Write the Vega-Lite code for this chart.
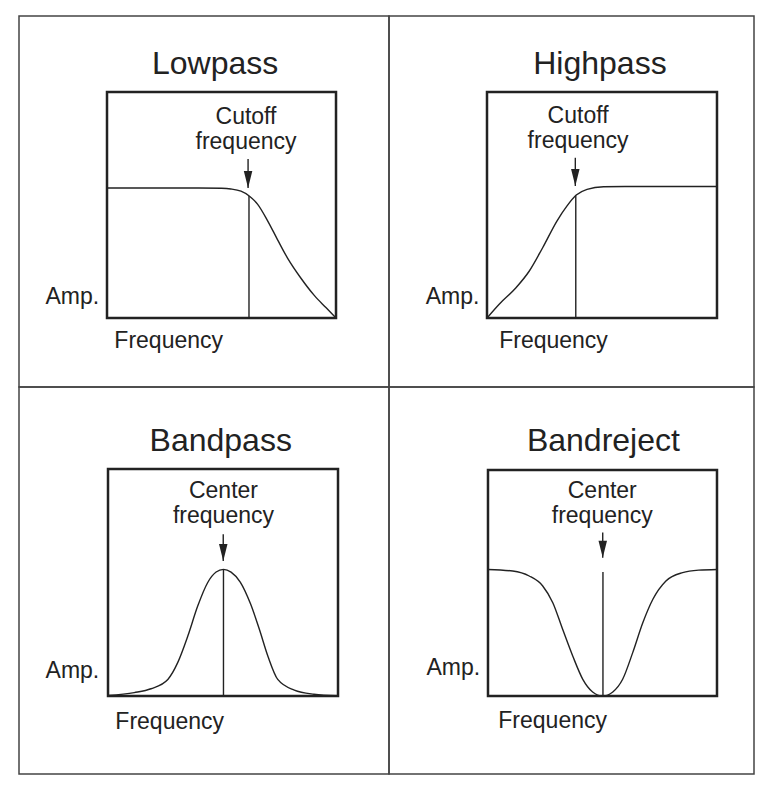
{
  "$schema": "https://vega.github.io/schema/vega-lite/v6.json",
  "background": "white",
  "padding": {"left": 18, "top": 15, "right": 21, "bottom": 15},
  "bounds": "flush",
  "align": "each",
  "spacing": 0,
  "columns": 2,
  "config": {
    "view": {"stroke": "#444", "strokeWidth": 1.5},
    "font": "Liberation Sans",
    "text": {"font": "Liberation Sans", "color": "#222", "fontSize": 23, "baseline": "alphabetic", "lineBreak": "\n", "lineHeight": 25},
    "line": {"interpolate": "monotone", "stroke": "#222", "strokeWidth": 1.4},
    "rule": {"stroke": "#222", "strokeWidth": 1.4}
  },
  "datasets": {
    "lowpass": [
      {"f": 0, "amp": 57.5}, {"f": 20, "amp": 57.5}, {"f": 40, "amp": 57.5}, {"f": 50, "amp": 57.4},
      {"f": 54.1, "amp": 57.1}, {"f": 58.5, "amp": 56.1}, {"f": 62.1, "amp": 54.0}, {"f": 65.8, "amp": 50.3},
      {"f": 70.2, "amp": 42.9}, {"f": 74.5, "amp": 34.6}, {"f": 78.9, "amp": 26.4}, {"f": 84.7, "amp": 17.6},
      {"f": 90.5, "amp": 10.0}, {"f": 95.6, "amp": 4.6}, {"f": 100, "amp": 0}
    ],
    "highpass": [
      {"f": 0, "amp": 0}, {"f": 5.3, "amp": 6.1}, {"f": 12.6, "amp": 13.4}, {"f": 18.4, "amp": 20.8},
      {"f": 24.2, "amp": 31.1}, {"f": 30.4, "amp": 42.9}, {"f": 34.8, "amp": 49.6}, {"f": 38.8, "amp": 54.4},
      {"f": 43.5, "amp": 56.9}, {"f": 50.7, "amp": 58.1}, {"f": 60, "amp": 58.2}, {"f": 80, "amp": 58.2}, {"f": 100, "amp": 58.2}
    ],
    "bandpass": [
      {"f": 0, "amp": 0.2}, {"f": 11.4, "amp": 1.5}, {"f": 18.7, "amp": 3.2}, {"f": 26, "amp": 7.3},
      {"f": 30.3, "amp": 14.7}, {"f": 34.7, "amp": 26.4}, {"f": 39, "amp": 39.6}, {"f": 43.3, "amp": 49.9},
      {"f": 47, "amp": 54.6}, {"f": 50.2, "amp": 55.8}, {"f": 53.5, "amp": 54.6}, {"f": 57.5, "amp": 50.2},
      {"f": 62, "amp": 40.5}, {"f": 65.8, "amp": 29.4}, {"f": 69.6, "amp": 17.3}, {"f": 73.8, "amp": 7.3},
      {"f": 81, "amp": 2.6}, {"f": 89.5, "amp": 0.8}, {"f": 100, "amp": 0.1}
    ],
    "bandreject": [
      {"f": 0, "amp": 56}, {"f": 10.8, "amp": 55.3}, {"f": 18, "amp": 53.1}, {"f": 23.9, "amp": 48.7},
      {"f": 28.3, "amp": 41.3}, {"f": 32.6, "amp": 29.5}, {"f": 37, "amp": 17.7}, {"f": 41.4, "amp": 7.4},
      {"f": 45.7, "amp": 1.8}, {"f": 50.1, "amp": 0}, {"f": 54.5, "amp": 1.8}, {"f": 58.8, "amp": 7.4},
      {"f": 63.2, "amp": 19.2}, {"f": 67.6, "amp": 32.4}, {"f": 72, "amp": 42.8}, {"f": 77.7, "amp": 50.9},
      {"f": 85, "amp": 54.6}, {"f": 92, "amp": 55.7}, {"f": 100, "amp": 56}
    ]
  },
  "concat": [
    {
      "width": 370, "height": 371,
      "encoding": {
        "x": {"field": "f", "type": "quantitative", "scale": {"domain": [-38.43, 123.14], "nice": false, "zero": false}, "axis": null},
        "y": {"field": "amp", "type": "quantitative", "scale": {"domain": [-30.53, 133.63], "nice": false, "zero": false}, "axis": null}
      },
      "layer": [
        {"data": {"values": [{"f": 0, "f2": 100, "amp": 0, "amp2": 100}]}, "mark": {"type": "rect", "filled": false, "stroke": "#222", "strokeWidth": 2.5}, "encoding": {"x2": {"field": "f2"}, "y2": {"field": "amp2"}}},
        {"data": {"name": "lowpass"}, "mark": {"type": "line"}},
        {"data": {"values": [{"f": 62.0, "amp": 54.0, "base": 0}]}, "mark": {"type": "rule"}, "encoding": {"y2": {"field": "base"}}},
        {"data": {"values": [{"f": 61.6, "amp": 57.5, "tail": 70.4}]}, "mark": {"type": "rule"}, "encoding": {"y2": {"field": "tail"}}},
        {"data": {"values": [{"f": 61.6, "amp": 57.5}]}, "mark": {"type": "point", "shape": "M-0.5,-2L0.5,-2L0,0Z", "size": 289, "filled": true, "fill": "#222", "opacity": 1, "strokeWidth": 0}},
        {"data": {"values": [{"f": 47.2, "amp": 107.8, "label": "Lowpass"}]}, "mark": {"type": "text", "fontSize": 32, "align": "center"}, "encoding": {"text": {"field": "label"}}},
        {"data": {"values": [{"f": 60.7, "amp": 85.8, "label": "Cutoff\nfrequency"}]}, "mark": {"type": "text", "align": "center"}, "encoding": {"text": {"field": "label"}}},
        {"data": {"values": [{"f": -3.4, "amp": 6.2, "label": "Amp."}]}, "mark": {"type": "text", "align": "right"}, "encoding": {"text": {"field": "label"}}},
        {"data": {"values": [{"f": 3.2, "amp": -13.4, "label": "Frequency"}]}, "mark": {"type": "text", "align": "left"}, "encoding": {"text": {"field": "label"}}}
      ]
    },
    {
      "width": 365, "height": 371,
      "encoding": {
        "x": {"field": "f", "type": "quantitative", "scale": {"domain": [-42.61, 116.09], "nice": false, "zero": false}, "axis": null},
        "y": {"field": "amp", "type": "quantitative", "scale": {"domain": [-30.53, 133.63], "nice": false, "zero": false}, "axis": null}
      },
      "layer": [
        {"data": {"values": [{"f": 0, "f2": 100, "amp": 0, "amp2": 100}]}, "mark": {"type": "rect", "filled": false, "stroke": "#222", "strokeWidth": 2.5}, "encoding": {"x2": {"field": "f2"}, "y2": {"field": "amp2"}}},
        {"data": {"name": "highpass"}, "mark": {"type": "line"}},
        {"data": {"values": [{"f": 38.6, "amp": 54.2, "base": 0}]}, "mark": {"type": "rule"}, "encoding": {"y2": {"field": "base"}}},
        {"data": {"values": [{"f": 38.4, "amp": 58.4, "tail": 70.9}]}, "mark": {"type": "rule"}, "encoding": {"y2": {"field": "tail"}}},
        {"data": {"values": [{"f": 38.4, "amp": 58.4}]}, "mark": {"type": "point", "shape": "M-0.5,-2L0.5,-2L0,0Z", "size": 289, "filled": true, "fill": "#222", "opacity": 1, "strokeWidth": 0}},
        {"data": {"values": [{"f": 49.1, "amp": 108.1, "label": "Highpass"}]}, "mark": {"type": "text", "fontSize": 32, "align": "center"}, "encoding": {"text": {"field": "label"}}},
        {"data": {"values": [{"f": 39.6, "amp": 86.4, "label": "Cutoff\nfrequency"}]}, "mark": {"type": "text", "align": "center"}, "encoding": {"text": {"field": "label"}}},
        {"data": {"values": [{"f": -3.3, "amp": 6.2, "label": "Amp."}]}, "mark": {"type": "text", "align": "right"}, "encoding": {"text": {"field": "label"}}},
        {"data": {"values": [{"f": 5.3, "amp": -13.1, "label": "Frequency"}]}, "mark": {"type": "text", "align": "left"}, "encoding": {"text": {"field": "label"}}}
      ]
    },
    {
      "width": 370, "height": 387,
      "encoding": {
        "x": {"field": "f", "type": "quantitative", "scale": {"domain": [-38.70, 122.17], "nice": false, "zero": false}, "axis": null},
        "y": {"field": "amp", "type": "quantitative", "scale": {"domain": [-34.36, 136.12], "nice": false, "zero": false}, "axis": null}
      },
      "layer": [
        {"data": {"values": [{"f": 0, "f2": 100, "amp": 0, "amp2": 100}]}, "mark": {"type": "rect", "filled": false, "stroke": "#222", "strokeWidth": 2.5}, "encoding": {"x2": {"field": "f2"}, "y2": {"field": "amp2"}}},
        {"data": {"name": "bandpass"}, "mark": {"type": "line"}},
        {"data": {"values": [{"f": 50.2, "amp": 55.8, "base": 0}]}, "mark": {"type": "rule"}, "encoding": {"y2": {"field": "base"}}},
        {"data": {"values": [{"f": 50.1, "amp": 59.5, "tail": 71.2}]}, "mark": {"type": "rule"}, "encoding": {"y2": {"field": "tail"}}},
        {"data": {"values": [{"f": 50.1, "amp": 59.5}]}, "mark": {"type": "point", "shape": "M-0.5,-2L0.5,-2L0,0Z", "size": 289, "filled": true, "fill": "#222", "opacity": 1, "strokeWidth": 0}},
        {"data": {"values": [{"f": 49.0, "amp": 107.9, "label": "Bandpass"}]}, "mark": {"type": "text", "fontSize": 32, "align": "center"}, "encoding": {"text": {"field": "label"}}},
        {"data": {"values": [{"f": 50.2, "amp": 87.1, "label": "Center\nfrequency"}]}, "mark": {"type": "text", "align": "center"}, "encoding": {"text": {"field": "label"}}},
        {"data": {"values": [{"f": -3.8, "amp": 8.1, "label": "Amp."}]}, "mark": {"type": "text", "align": "right"}, "encoding": {"text": {"field": "label"}}},
        {"data": {"values": [{"f": 3.2, "amp": -14.7, "label": "Frequency"}]}, "mark": {"type": "text", "align": "left"}, "encoding": {"text": {"field": "label"}}}
      ]
    },
    {
      "width": 365, "height": 387,
      "encoding": {
        "x": {"field": "f", "type": "quantitative", "scale": {"domain": [-43.23, 116.16], "nice": false, "zero": false}, "axis": null},
        "y": {"field": "amp", "type": "quantitative", "scale": {"domain": [-34.51, 136.73], "nice": false, "zero": false}, "axis": null}
      },
      "layer": [
        {"data": {"values": [{"f": 0, "f2": 100, "amp": 0, "amp2": 100}]}, "mark": {"type": "rect", "filled": false, "stroke": "#222", "strokeWidth": 2.5}, "encoding": {"x2": {"field": "f2"}, "y2": {"field": "amp2"}}},
        {"data": {"name": "bandreject"}, "mark": {"type": "line"}},
        {"data": {"values": [{"f": 50.2, "amp": 54.9, "base": 0}]}, "mark": {"type": "rule"}, "encoding": {"y2": {"field": "base"}}},
        {"data": {"values": [{"f": 50.1, "amp": 61.2, "tail": 72.3}]}, "mark": {"type": "rule"}, "encoding": {"y2": {"field": "tail"}}},
        {"data": {"values": [{"f": 50.1, "amp": 61.2}]}, "mark": {"type": "point", "shape": "M-0.5,-2L0.5,-2L0,0Z", "size": 289, "filled": true, "fill": "#222", "opacity": 1, "strokeWidth": 0}},
        {"data": {"values": [{"f": 50.4, "amp": 108.4, "label": "Bandreject"}]}, "mark": {"type": "text", "fontSize": 32, "align": "center"}, "encoding": {"text": {"field": "label"}}},
        {"data": {"values": [{"f": 49.9, "amp": 87.7, "label": "Center\nfrequency"}]}, "mark": {"type": "text", "align": "center"}, "encoding": {"text": {"field": "label"}}},
        {"data": {"values": [{"f": -3.4, "amp": 9.2, "label": "Amp."}]}, "mark": {"type": "text", "align": "right"}, "encoding": {"text": {"field": "label"}}},
        {"data": {"values": [{"f": 4.5, "amp": -14.0, "label": "Frequency"}]}, "mark": {"type": "text", "align": "left"}, "encoding": {"text": {"field": "label"}}}
      ]
    }
  ]
}
